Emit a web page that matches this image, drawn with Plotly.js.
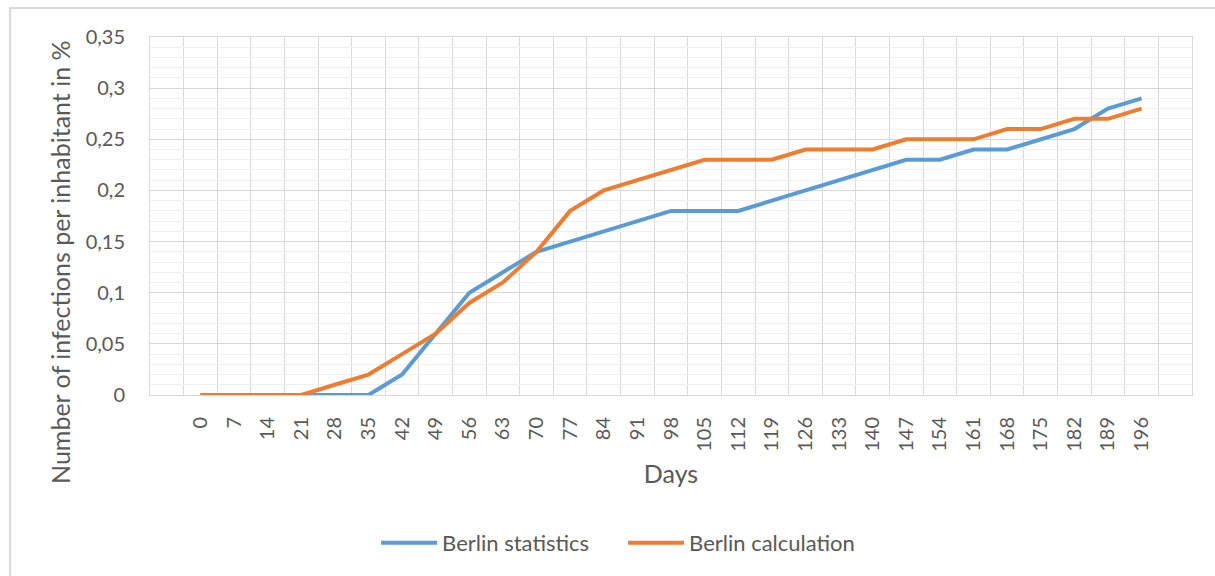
<!DOCTYPE html>
<html>
<head>
<meta charset="utf-8">
<script src="https://cdn.plot.ly/plotly-3.0.1.min.js"></script>
<style>
html,body{margin:0;padding:0;background:#fff;}
#frame{position:absolute;left:9px;top:7px;width:1220px;height:580px;border-top:2px solid #d9d9d9;border-left:2px solid #d9d9d9;box-sizing:border-box;}
#chart{position:absolute;left:0;top:0;width:1215px;height:576px;}
</style>
</head>
<body>
<div id="frame"></div>
<div id="chart"></div>
<script>
const days = [0,7,14,21,28,35,42,49,56,63,70,77,84,91,98,105,112,119,126,133,140,147,154,161,168,175,182,189,196];
const berlinStatistics = [0,0,0,0,0,0,0.02,0.06,0.10,0.12,0.14,0.15,0.16,0.17,0.18,0.18,0.18,0.19,0.20,0.21,0.22,0.23,0.23,0.24,0.24,0.25,0.26,0.28,0.29];
const berlinCalculation = [0,0,0,0,0.01,0.02,0.04,0.06,0.09,0.11,0.14,0.18,0.20,0.21,0.22,0.23,0.23,0.23,0.24,0.24,0.24,0.25,0.25,0.25,0.26,0.26,0.27,0.27,0.28];
const seriesNames = ["Berlin statistics", "Berlin calculation"];
const tickLabels = days.map(String);
const yTitle = "Number of infections per inhabitant in %";

const font = "Lato, 'Open Sans', sans-serif";
const traces = [
  {x: days, y: berlinStatistics, name: seriesNames[0], mode: "lines", line: {color: "#5b9bd5", width: 4}},
  {x: days, y: berlinCalculation, name: seriesNames[1], mode: "lines", line: {color: "#ed7d31", width: 4}}
];
const layout = {
  width: 1215, height: 576,
  paper_bgcolor: "rgba(0,0,0,0)", plot_bgcolor: "#fff",
  margin: {l: 150, r: 23, t: 37, b: 181},
  separators: ", ",
  font: {family: font, color: "#595959", size: 20},
  showlegend: true,
  legend: {orientation: "h", x: 0.217, xanchor: "left", xref: "paper", y: -0.413, yanchor: "middle",
           font: {size: 22, color: "#595959"}, itemwidth: 56, entrywidth: 176, entrywidthmode: "pixels", tracegroupgap: 0},
  xaxis: {
    range: [-10.5, 206.5],
    tickmode: "array", tickvals: days, ticktext: tickLabels,
    tickangle: -90, tickfont: {size: 20, color: "#595959"},
    showgrid: false, zeroline: false, ticks: "outside", ticklen: 13, tickcolor: "rgba(0,0,0,0)",
    showline: true, linecolor: "#d9d9d9", linewidth: 1, mirror: true,
    minor: {tickmode: "linear", tick0: -3.5, dtick: 7, showgrid: true, gridcolor: "#d9d9d9", gridwidth: 1, ticks: ""},
    title: {text: "Days", font: {size: 25, color: "#595959"}, standoff: 14}
  },
  yaxis: {
    range: [0, 0.35], tickmode: "linear", tick0: 0, dtick: 0.05,
    tickfont: {size: 20, color: "#595959"},
    showgrid: true, gridcolor: "#d9d9d9", gridwidth: 1, zeroline: false,
    showline: true, linecolor: "#d9d9d9", linewidth: 1, mirror: true,
    ticks: "outside", ticklen: 20, tickcolor: "rgba(0,0,0,0)",
    minor: {dtick: 0.01, showgrid: true, gridcolor: "#f0f0f0", gridwidth: 1, ticks: ""}
  },
  annotations: [{
    text: yTitle, textangle: -90, showarrow: false,
    xref: "paper", yref: "paper", x: -0.0864, y: 0.3715, xanchor: "center", yanchor: "middle",
    font: {size: 25, color: "#595959"}
  }]
};
Plotly.newPlot("chart", traces, layout, {displayModeBar: false, staticPlot: true});
</script>
</body>
</html>
